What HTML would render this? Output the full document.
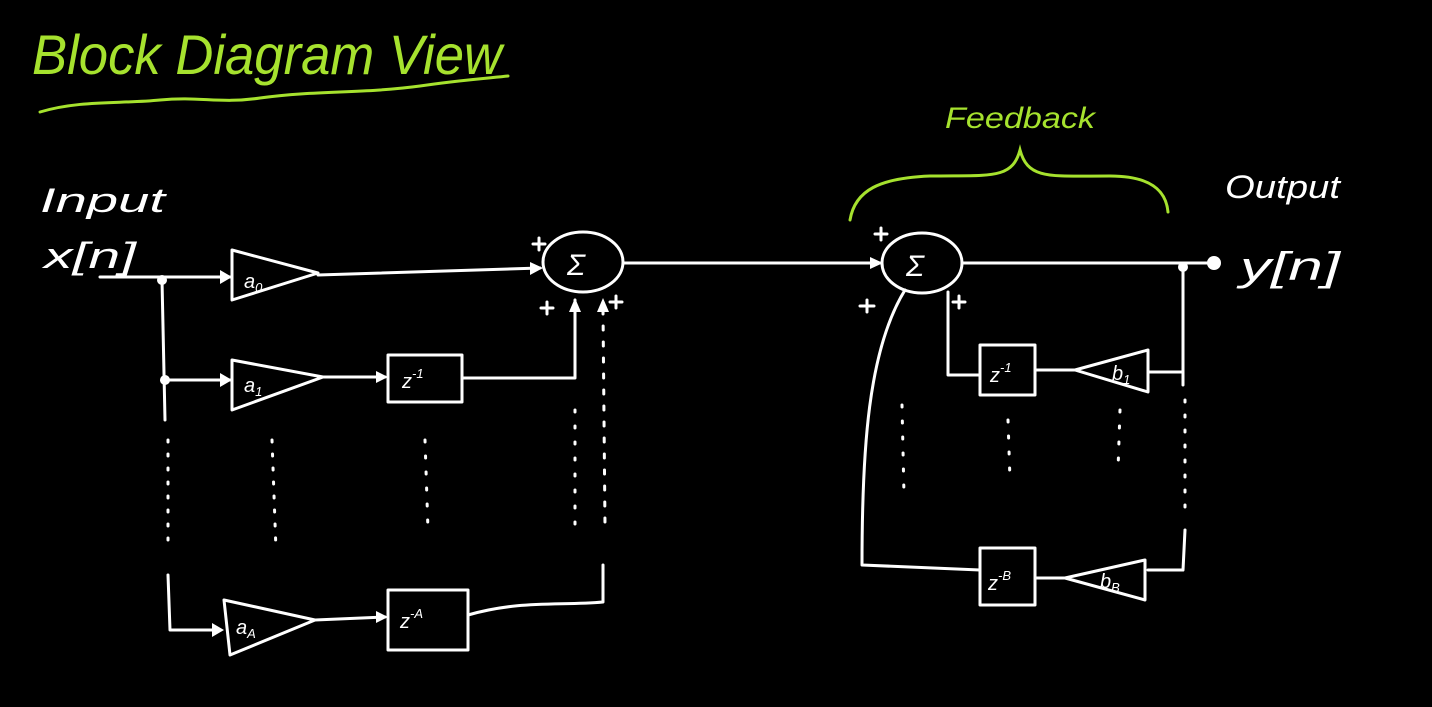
<!DOCTYPE html>
<html><head><meta charset="utf-8"><style>
html,body{margin:0;padding:0;background:#000;width:1432px;height:707px;overflow:hidden}
svg{display:block}
text{font-family:"Liberation Sans",sans-serif}
</style></head><body>
<svg width="1432" height="707" viewBox="0 0 1432 707" xmlns="http://www.w3.org/2000/svg">
<g fill="none" stroke="#a6e22e" stroke-width="3" stroke-linecap="round">
<path d="M40 112 C80 100,120 104,160 100 C200 96,220 104,260 98 C320 90,360 94,420 86 C460 80,490 78,508 76"/>
<path d="M850 220 C855 190,880 178,930 176 C990 175,1012 180,1020 150 C1028 180,1050 176,1110 176 C1150 176,1166 190,1168 212"/>
</g>
<g fill="#a6e22e" font-style="italic">
<text x="32" y="74" font-size="56" textLength="470" lengthAdjust="spacingAndGlyphs">Block Diagram View</text>
<text x="945" y="128" font-size="30" textLength="150" lengthAdjust="spacingAndGlyphs">Feedback</text>
</g>
<g fill="#fff" font-style="italic">
<text x="40" y="212" font-size="34" textLength="125" lengthAdjust="spacingAndGlyphs">Input</text>
<text x="44" y="268" font-size="36" textLength="92" lengthAdjust="spacingAndGlyphs">x[n]</text>
<text x="1225" y="198" font-size="32" textLength="115" lengthAdjust="spacingAndGlyphs">Output</text>
<text x="1240" y="280" font-size="40" textLength="100" lengthAdjust="spacingAndGlyphs">y[n]</text>
</g>
<g fill="none" stroke="#fff" stroke-width="3" stroke-linecap="round" stroke-linejoin="round">
<!-- left input path -->
<path d="M100 277 L230 277"/>
<path d="M162 280 L165 420"/>
<path d="M168 440 L168 545" stroke-dasharray="2 12"/>
<path d="M168 575 L170 630 L220 630"/>
<path d="M165 380 L230 380"/>
<!-- triangles -->
<path d="M232 250 L318 273 L232 300 Z"/>
<path d="M232 360 L323 377 L232 410 Z"/>
<path d="M224 600 L315 620 L230 655 Z"/>
<path d="M318 275 L540 268"/>
<path d="M323 377 L385 377"/>
<rect x="388" y="355" width="74" height="47"/>
<path d="M462 378 L575 378 L575 300"/>
<path d="M315 620 L385 617"/>
<rect x="388" y="590" width="80" height="60"/>
<path d="M468 615 C520 600,560 606,603 602 L603 565"/>
<path d="M272 440 L276 550" stroke-dasharray="2 12"/>
<path d="M425 440 L428 530" stroke-dasharray="2 14"/>
<path d="M575 410 L575 525" stroke-dasharray="2 14"/>
<path d="M603 310 L605 525" stroke-dasharray="4 12"/>
<!-- sum 1 -->
<ellipse cx="583" cy="262" rx="40" ry="30"/>
<path d="M623 263 L880 263"/>
<!-- sum 2 -->
<ellipse cx="922" cy="263" rx="40" ry="30"/>
<path d="M962 263 L1210 263"/>
<path d="M1183 267 L1183 385"/>
<path d="M1185 400 L1185 510" stroke-dasharray="2 13"/>
<path d="M1185 530 L1183 570 L1148 570"/>
<path d="M1183 372 L1148 372"/>
<path d="M1148 350 L1075 370 L1148 392 Z"/>
<path d="M1075 370 L1035 370"/>
<rect x="980" y="345" width="55" height="50"/>
<path d="M980 375 L948 375 L948 292"/>
<path d="M1145 560 L1065 578 L1145 600 Z"/>
<path d="M1065 578 L1035 578"/>
<rect x="980" y="548" width="55" height="57"/>
<path d="M980 570 L862 565 C862 450,868 350,905 290"/>
<path d="M902 405 L904 495" stroke-dasharray="2 14"/>
<path d="M1008 420 L1010 480" stroke-dasharray="2 14"/>
<path d="M1120 410 L1118 470" stroke-dasharray="2 14"/>
<!-- plus signs -->
<path d="M533 244 L545 244 M539 238 L539 250"/>
<path d="M541 308 L553 308 M547 302 L547 314"/>
<path d="M610 302 L622 302 M616 296 L616 308"/>
<path d="M875 234 L887 234 M881 228 L881 240"/>
<path d="M860 306 L874 306 M867 300 L867 312"/>
<path d="M953 302 L965 302 M959 296 L959 308"/>
</g>
<g fill="#fff">
<circle cx="162" cy="280" r="5"/><circle cx="165" cy="380" r="5"/>
<circle cx="1183" cy="267" r="5"/><circle cx="1214" cy="263" r="7"/>
<path d="M220 270 L232 277 L220 284 Z"/><path d="M220 373 L232 380 L220 387 Z"/>
<path d="M212 623 L224 630 L212 637 Z"/><path d="M530 262 L543 268 L530 275 Z"/>
<path d="M376 371 L388 377 L376 383 Z"/><path d="M376 611 L388 617 L376 623 Z"/>
<path d="M870 257 L883 263 L870 269 Z"/>
<path d="M569 312 L575 298 L581 312 Z"/><path d="M597 312 L603 298 L609 312 Z"/>
</g>
<g fill="#fff" font-style="italic" font-size="20">
<text x="244" y="288">a<tspan font-size="13" dy="4">0</tspan></text>
<text x="244" y="392">a<tspan font-size="13" dy="4">1</tspan></text>
<text x="236" y="634">a<tspan font-size="13" dy="4">A</tspan></text>
<text x="567" y="275" font-size="30">Σ</text>
<text x="906" y="276" font-size="30">Σ</text>
<text x="402" y="388">z<tspan font-size="13" dy="-10">-1</tspan></text>
<text x="400" y="628">z<tspan font-size="13" dy="-10">-A</tspan></text>
<text x="990" y="382">z<tspan font-size="13" dy="-10">-1</tspan></text>
<text x="988" y="590">z<tspan font-size="13" dy="-10">-B</tspan></text>
<text x="1112" y="380">b<tspan font-size="13" dy="4">1</tspan></text>
<text x="1100" y="588">b<tspan font-size="13" dy="4">B</tspan></text>
</g>
</svg>
</body></html>
